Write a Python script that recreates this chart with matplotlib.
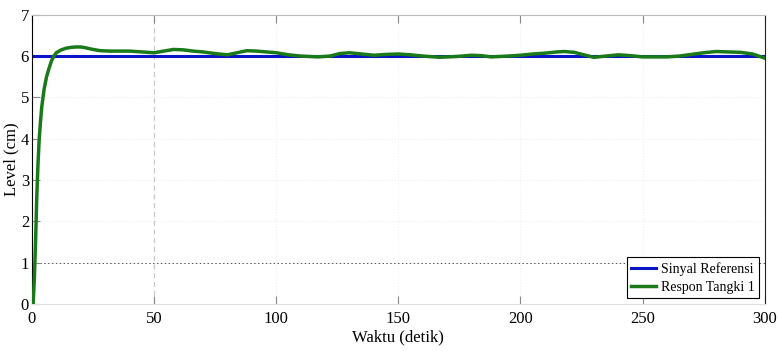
import matplotlib
matplotlib.use("Agg")
import matplotlib.pyplot as plt

# Simulation output: time (s) and tank level (cm)
waktu = [0, 0.5, 1, 1.5, 2, 2.5, 3, 3.5, 4, 5, 6, 7, 8, 9, 10, 12, 14, 16, 18, 20,
         22, 25, 28, 32, 36, 40, 45, 50, 54, 58, 62, 66, 70, 75, 80, 84, 88, 92, 96,
         100, 105, 110, 117, 122, 126, 130, 135, 140, 145, 150, 155, 160, 167, 174,
         180, 184, 188, 195, 200, 205, 210, 215, 218, 222, 226, 230, 235, 240, 245,
         250, 255, 260, 265, 270, 275, 280, 285, 290, 295, 300]
respon_tangki1 = [0.0, 0.0, 0.6, 1.5, 2.6, 3.4, 4.0, 4.4, 4.75, 5.2, 5.5, 5.7, 5.88,
                  6.0, 6.08, 6.15, 6.19, 6.21, 6.22, 6.22, 6.2, 6.16, 6.13, 6.12, 6.12,
                  6.12, 6.1, 6.08, 6.12, 6.16, 6.15, 6.12, 6.1, 6.06, 6.03, 6.08, 6.13,
                  6.12, 6.1, 6.08, 6.03, 6.0, 5.98, 6.0, 6.06, 6.08, 6.05, 6.02, 6.04,
                  6.05, 6.03, 6.0, 5.97, 5.99, 6.02, 6.01, 5.98, 6.0, 6.02, 6.05, 6.07,
                  6.1, 6.11, 6.09, 6.03, 5.97, 6.0, 6.03, 6.01, 5.98, 5.98, 5.98, 6.0,
                  6.04, 6.08, 6.11, 6.1, 6.09, 6.05, 5.95]
ref_waktu = [0, 300]
sinyal_referensi = [6, 6]

x_ticks = [0, 50, 100, 150, 200, 250, 300]
y_ticks = [0, 1, 2, 3, 4, 5, 6, 7]

plt.rcParams['font.family'] = ['Liberation Serif', 'DejaVu Serif']

fig = plt.figure(figsize=(7.78, 3.51), dpi=100)
ax = fig.add_axes([0.041, 0.134, 0.942, 0.824])

# faint grid
for xv in x_ticks[1:-1]:
    ax.axvline(xv, color='#f0f0f0', lw=0.8, ls=':', zorder=0)
for yv in y_ticks[1:-1]:
    ax.axhline(yv, color='#f0f0f0', lw=0.8, ls=':', zorder=0)
ax.axvline(50, color='#c8c8c8', lw=0.9, ls=(0, (4, 3)), zorder=0)
ax.axhline(1, color='#555555', lw=0.7, ls=(0, (1.5, 2.5)), zorder=0)

ax.plot(ref_waktu, sinyal_referensi, color='#0a14c8', lw=2.2, label='Sinyal Referensi', zorder=2)
ax.plot(waktu, respon_tangki1, color='#1a7a1a', lw=2.5, label='Respon Tangki 1', zorder=3)

ax.set_xlim(0, 300)
ax.set_ylim(0, 7)
ax.set_xticks(x_ticks)
ax.set_yticks(y_ticks)
ax.tick_params(direction='in', length=6, width=0.8, labelsize=12, pad=2,
               color='#888888', top=True, right=False)
ax.tick_params(axis='x', pad=5)

ax.spines['left'].set_color('black')
ax.spines['right'].set_color('#222222')
ax.spines['top'].set_color('#bbbbbb')
ax.spines['bottom'].set_color('#e0e0e0')

ax.set_xlabel('Waktu (detik)', fontsize=12, labelpad=2)
ax.set_ylabel('Level (cm)', fontsize=12, labelpad=1)

leg = ax.legend(loc='lower right', fontsize=10, frameon=True, fancybox=False,
                edgecolor='black', framealpha=1, handlelength=1.8, handletextpad=0.3,
                borderpad=0.35, labelspacing=0.35, borderaxespad=0.4)
leg.get_frame().set_linewidth(0.8)

fig.savefig('out.png', dpi=100)
